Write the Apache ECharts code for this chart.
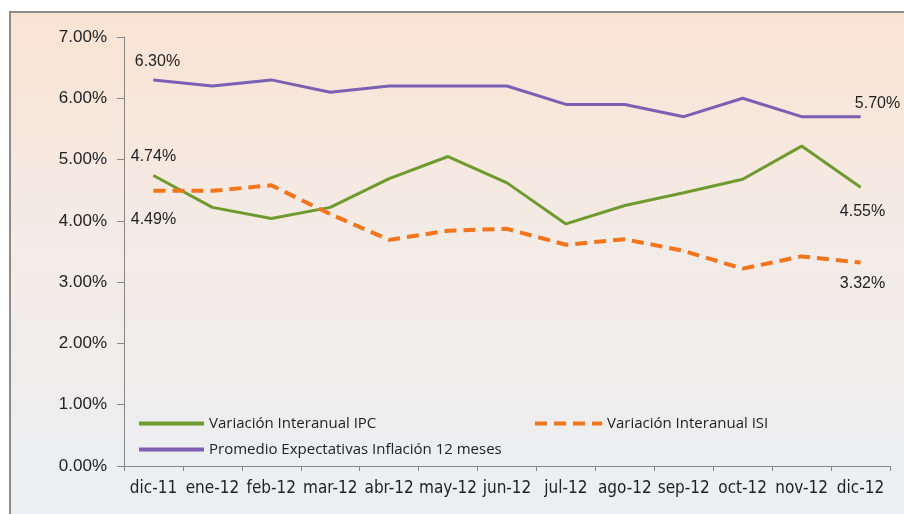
<!DOCTYPE html>
<html>
<head>
<meta charset="utf-8">
<script src="https://cdn.jsdelivr.net/npm/echarts@6/dist/echarts.min.js"></script>
<style>
  html, body { margin: 0; padding: 0; background: #fff; }
  #chart { width: 904px; height: 514px; }
</style>
</head>
<body>
<div id="chart"></div>
<script>
// meses
var months = ['dic-11','ene-12','feb-12','mar-12','abr-12','may-12','jun-12','jul-12','ago-12','sep-12','oct-12','nov-12','dic-12'];
// valores en %
var ipc = [4.74, 4.22, 4.04, 4.22, 4.69, 5.05, 4.62, 3.95, 4.25, 4.46, 4.68, 5.22, 4.55];
var isi = [4.49, 4.49, 4.58, 4.11, 3.69, 3.84, 3.87, 3.61, 3.70, 3.51, 3.22, 3.42, 3.32];
var expectativas = [6.30, 6.20, 6.30, 6.10, 6.20, 6.20, 6.20, 5.90, 5.90, 5.70, 6.00, 5.70, 5.70];
var yTicks = [0, 1, 2, 3, 4, 5, 6, 7];

var nameIPC = 'Variación Interanual IPC';
var nameISI = 'Variación Interanual ISI';
var nameExp = 'Promedio Expectativas Inflación 12 meses';

var narrow = "'Liberation Sans Narrow', 'DejaVu Sans Condensed', sans-serif";
var arial = "'Liberation Sans', Arial, sans-serif";

// solo se etiqueta el primer y el ultimo punto
function withLabels(values, first, last){
	return values.map(function(v, i){
		var item = { value: v };
		if(i === 0) item.label = first;
		if(i === values.length - 1) item.label = last;
		return item;
	});
}
function lbl(pos, dist, off){
	return { show: true, position: pos, distance: dist, offset: off || [0, 0],
		formatter: function(p){ return p.value.toFixed(2) + '%'; },
		color: '#222', fontSize: 16, fontFamily: arial };
}
function legendAt(name, left, top, w){
	return { data: [name], left: left, top: top, padding: 0,
		itemWidth: w, itemHeight: 10, itemGap: 6,
		itemStyle: { opacity: 0 },
		lineStyle: { width: 4 },
		textStyle: { fontSize: 15, color: '#222', fontFamily: "'Open Sans', sans-serif" } };
}

var chart = echarts.init(document.getElementById('chart'));
var option = {
	animation: false,
	graphic: [{
		type: 'rect', z: -10, silent: true,
		shape: { x: 10, y: 12, width: 900, height: 510 },
		style: {
			fill: new echarts.graphic.LinearGradient(0, 0, 0, 1, [
				{ offset: 0, color: '#fae3d3' },
				{ offset: 0.45, color: '#f3ebe6' },
				{ offset: 1, color: '#ebeff3' }
			]),
			stroke: '#8c8c8c', lineWidth: 2
		}
	}],
	grid: { left: 124, right: 14, top: 37, bottom: 48 },
	legend: [
		legendAt(nameIPC, 137, 416, 65),
		legendAt(nameISI, 533, 416, 67),
		legendAt(nameExp, 137, 442, 65)
	],
	xAxis: {
		type: 'category',
		data: months,
		boundaryGap: true,
		axisLine: { lineStyle: { color: '#868686', width: 1 } },
		axisTick: { show: true, length: 5, lineStyle: { color: '#868686' } },
		axisLabel: { color: '#222', fontSize: 17, margin: 14, fontFamily: narrow, interval: 0 }
	},
	yAxis: {
		type: 'value',
		min: yTicks[0], max: yTicks[yTicks.length - 1], interval: 1,
		axisLine: { show: true, lineStyle: { color: '#868686', width: 1 } },
		axisTick: { show: true, length: 7, lineStyle: { color: '#868686' } },
		splitLine: { show: false },
		axisLabel: { color: '#222', fontSize: 17, margin: 17, fontFamily: arial,
			formatter: function(v){ return v.toFixed(2) + '%'; } }
	},
	series: [
		{
			name: nameIPC, type: 'line',
			data: withLabels(ipc, lbl('top', 10), lbl('bottom', 16, [2, 0])),
			symbol: 'circle', symbolSize: 1,
			lineStyle: { color: '#6f9a2f', width: 3 },
			itemStyle: { color: '#6f9a2f' }
		},
		{
			name: nameISI, type: 'line',
			data: withLabels(isi, lbl('bottom', 20), lbl('bottom', 13, [2, 0])),
			symbol: 'circle', symbolSize: 1,
			lineStyle: { color: '#f2741c', width: 4, type: [12, 7] },
			itemStyle: { color: '#f2741c' }
		},
		{
			name: nameExp, type: 'line',
			data: withLabels(expectativas, lbl('top', 10, [4, 0]), lbl('top', 5, [17, 0])),
			symbol: 'circle', symbolSize: 1,
			lineStyle: { color: '#7b5fb2', width: 3 },
			itemStyle: { color: '#7b5fb2' }
		}
	]
};
chart.setOption(option);
</script>
</body>
</html>
